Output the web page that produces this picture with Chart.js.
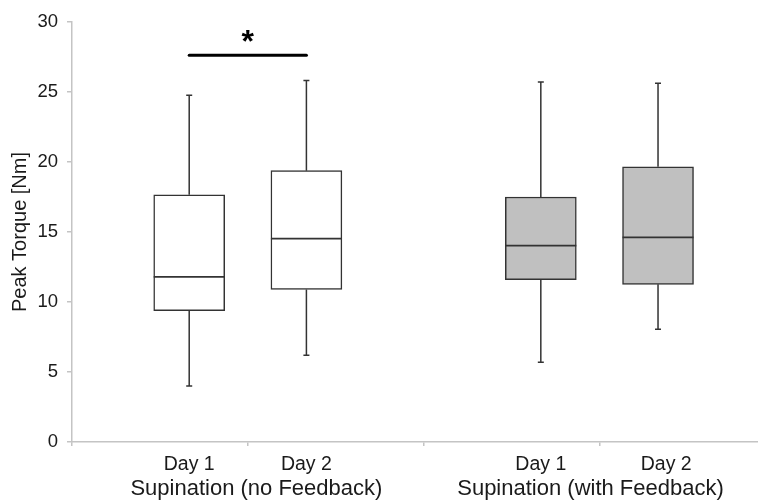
<!DOCTYPE html>
<html>
<head>
<meta charset="utf-8">
<script src="https://cdn.jsdelivr.net/npm/chart.js@4/dist/chart.umd.min.js"></script>
<style>
  html, body { margin: 0; padding: 0; background: #ffffff; }
  #wrap { width: 758px; height: 503px; position: relative; }
</style>
</head>
<body>
<div id="wrap"><canvas id="c" width="758" height="503"></canvas></div>
<script>
// ---- Data ----
const groupLabels = ['Supination (no Feedback)', 'Supination (with Feedback)'];
const dayLabels = ['Day 1', 'Day 2', 'Day 1', 'Day 2'];
const boxPositions = [1, 2, 4, 5];
const whiskerMin = [4.0, 6.2, 5.7, 8.05];
const quartile1 = [9.38, 10.9, 11.6, 11.26];
const medians = [11.8, 14.52, 14.02, 14.62];
const quartile3 = [17.66, 19.38, 17.5, 19.66];
const whiskerMax = [24.76, 25.83, 25.71, 25.62];
const boxFills = ['#ffffff', '#ffffff', '#c0c0c0', '#c0c0c0'];
const yTickValues = [0, 5, 10, 15, 20, 25, 30];
const significance = { from: 1, to: 2, y: 27.62, label: '*' };

// label anchors (layout)
const dayLabelX = [1, 2, 4, 5.07];
const groupLabelX = [1.573, 4.424];

const TEXT = '#1a1a1a';
const AXIS = '#c4c4c4';
const LINE = '#333333';
const FONT = '"Liberation Sans", Arial, sans-serif';

const boxPlugin = {
  id: 'boxExtras',
  afterDatasetsDraw(chart) {
    const ctx = chart.ctx;
    const xs = chart.scales.x, ys = chart.scales.y;
    const meta = chart.getDatasetMeta(0);
    ctx.save();
    ctx.strokeStyle = LINE;
    ctx.lineWidth = 1.5;
    meta.data.forEach((bar, i) => {
      const cx = xs.getPixelForValue(boxPositions[i]);
      const half = bar.width / 2;
      const yMax = ys.getPixelForValue(whiskerMax[i]);
      const yMin = ys.getPixelForValue(whiskerMin[i]);
      const yQ1 = ys.getPixelForValue(quartile1[i]);
      const yQ3 = ys.getPixelForValue(quartile3[i]);
      const yMed = ys.getPixelForValue(medians[i]);
      ctx.beginPath();
      ctx.moveTo(cx, yQ3); ctx.lineTo(cx, yMax);
      ctx.moveTo(cx - 3, yMax); ctx.lineTo(cx + 3, yMax);
      ctx.moveTo(cx, yQ1); ctx.lineTo(cx, yMin);
      ctx.moveTo(cx - 3, yMin); ctx.lineTo(cx + 3, yMin);
      ctx.stroke();
      ctx.beginPath();
      ctx.lineWidth = 1.8;
      ctx.moveTo(cx - half, yMed); ctx.lineTo(cx + half, yMed);
      ctx.stroke();
      ctx.lineWidth = 1.5;
    });
    // significance bar
    const sx1 = xs.getPixelForValue(significance.from);
    const sx2 = xs.getPixelForValue(significance.to);
    const sy = ys.getPixelForValue(significance.y);
    ctx.strokeStyle = '#000000';
    ctx.lineWidth = 3;
    ctx.lineCap = 'round';
    ctx.beginPath();
    ctx.moveTo(sx1, sy); ctx.lineTo(sx2, sy);
    ctx.stroke();
    ctx.fillStyle = '#000000';
    ctx.font = 'bold 32px ' + FONT;
    ctx.textAlign = 'center';
    ctx.textBaseline = 'alphabetic';
    ctx.fillText(significance.label, (sx1 + sx2) / 2, sy - 3);
    // x labels
    ctx.fillStyle = TEXT;
    ctx.font = '19.5px ' + FONT;
    const base = chart.chartArea.bottom;
    dayLabels.forEach((t, i) => {
      ctx.fillText(t, xs.getPixelForValue(dayLabelX[i]), base + 28);
    });
    ctx.font = '22px ' + FONT;
    groupLabels.forEach((t, i) => {
      ctx.fillText(t, xs.getPixelForValue(groupLabelX[i]), base + 53);
    });
    ctx.restore();
  }
};

new Chart(document.getElementById('c'), {
  type: 'bar',
  data: {
    datasets: [{
      data: boxPositions.map((x, i) => ({ x: x, y: [quartile1[i], quartile3[i]] })),
      backgroundColor: boxFills,
      borderColor: LINE,
      borderWidth: 1.5,
      borderSkipped: false,
      barThickness: 71
    }]
  },
  options: {
    responsive: false,
    animation: false,
    devicePixelRatio: 1,
    layout: { padding: { top: 22, right: 0, left: 0, bottom: 0 } },
    plugins: { legend: { display: false }, tooltip: { enabled: false } },
    scales: {
      x: {
        type: 'linear',
        min: 0,
        max: 5.853,
        offset: false,
        grid: { display: true, drawOnChartArea: false, offset: false, tickLength: 4, color: AXIS, lineWidth: 1.5 },
        border: { display: true, color: AXIS, width: 1.5 },
        ticks: { display: false, stepSize: 1.5, includeBounds: false },
        afterFit(s) { s.height = 61; }
      },
      y: {
        min: 0,
        max: 30,
        afterBuildTicks(s) { s.ticks = yTickValues.map(v => ({ value: v })); },
        grid: { display: true, drawOnChartArea: false, tickLength: 5, color: AXIS, lineWidth: 1.5 },
        border: { display: true, color: AXIS, width: 1.5 },
        ticks: { color: TEXT, padding: 9, font: { size: 18.5, family: FONT } },
        title: {
          display: true,
          text: 'Peak Torque [Nm]',
          color: TEXT,
          padding: { top: 8, bottom: 0 },
          font: { size: 20, family: FONT }
        },
        afterFit(s) { s.width = 72; }
      }
    }
  },
  plugins: [boxPlugin]
});
</script>
</body>
</html>
